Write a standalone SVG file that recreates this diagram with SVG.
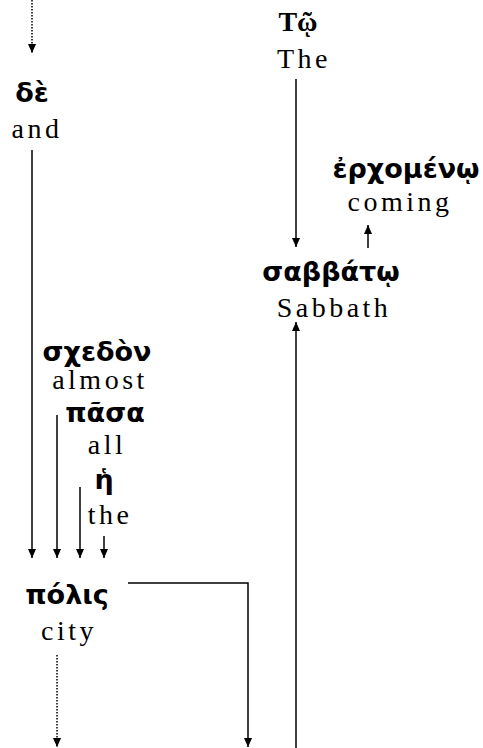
<svg xmlns="http://www.w3.org/2000/svg" width="483" height="748" viewBox="0 0 483 748">
<style>
.g{font-family:"DejaVu Sans","Noto Sans",sans-serif;font-weight:bold;font-size:27px;text-anchor:middle;fill:#000}
.e{font-family:"Liberation Serif","Times New Roman",serif;font-size:28px;letter-spacing:3.5px;text-anchor:middle;fill:#000}
.gs{font-family:"Liberation Serif",serif;font-weight:bold;font-size:28px;text-anchor:middle;fill:#000}
.l{stroke:#000;stroke-width:1.5;fill:none}
.d{stroke:#000;stroke-width:1.5;fill:none;stroke-dasharray:1.5 1.5}
</style>
<defs>
<marker id="a" viewBox="0 0 10 10" refX="10" refY="5" markerWidth="9" markerHeight="9" markerUnits="userSpaceOnUse" orient="auto"><path d="M0,0.5L10,5L0,9.5z" fill="#000"/></marker>
</defs>
<g id="connectors">
<line class="d" x1="32" y1="0" x2="32" y2="53" marker-end="url(#a)"/>
<line class="l" x1="32" y1="150" x2="32" y2="558" marker-end="url(#a)"/>
<line class="l" x1="57" y1="415" x2="57" y2="558" marker-end="url(#a)"/>
<line class="l" x1="80" y1="487" x2="80" y2="558" marker-end="url(#a)"/>
<line class="l" x1="104" y1="536" x2="104" y2="558" marker-end="url(#a)"/>
<line class="l" x1="296" y1="79" x2="296" y2="247" marker-end="url(#a)"/>
<line class="l" x1="368" y1="248" x2="368" y2="225" marker-end="url(#a)"/>
<line class="l" x1="296" y1="748" x2="296" y2="322" marker-end="url(#a)"/>
<polyline class="l" points="128,583 248,583 248,747" marker-end="url(#a)"/>
<line class="d" x1="57" y1="655" x2="57" y2="747" marker-end="url(#a)"/>
</g>
<g id="de"><text class="g" x="32" y="102">δὲ</text><text class="e" x="37" y="138">and</text></g>
<g id="to"><text class="gs" x="298" y="31">Τῷ</text><text class="e" x="304" y="68">The</text></g>
<g id="erchomeno"><text class="g" x="406" y="178">ἐρχομένῳ</text><text class="e" x="400" y="211">coming</text></g>
<g id="sabbato"><text class="g" x="331" y="281">σαββάτῳ</text><text class="e" x="334" y="317">Sabbath</text></g>
<g id="schedon"><text class="g" x="97" y="361">σχεδὸν</text><text class="e" x="100" y="389">almost</text></g>
<g id="pasa"><text class="g" x="105" y="422">πᾶσα</text><text class="e" x="107" y="454">all</text></g>
<g id="he"><text class="g" x="104" y="489">ἡ</text><text class="e" x="110" y="524">the</text></g>
<g id="polis"><text class="g" x="67" y="604">πόλις</text><text class="e" x="69" y="640">city</text></g>
</svg>
